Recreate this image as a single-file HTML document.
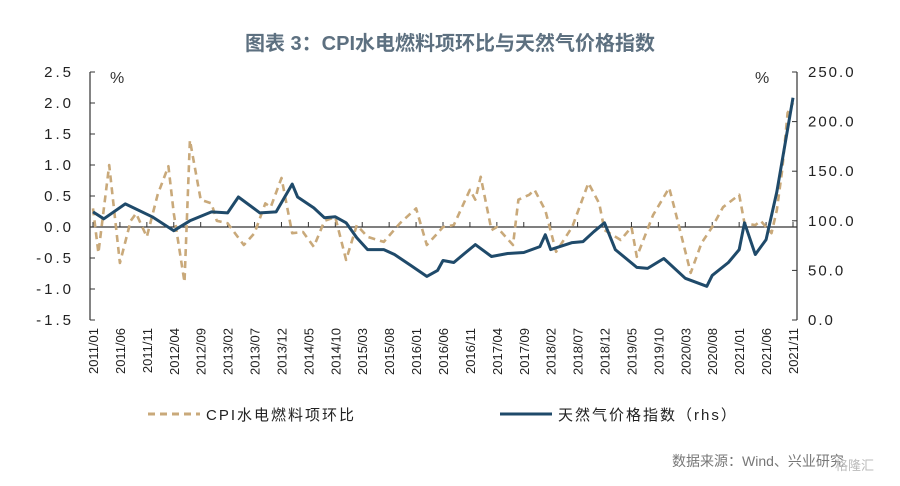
<!DOCTYPE html>
<html><head><meta charset="utf-8">
<style>
html,body{margin:0;padding:0;background:#fff;}
body{width:900px;height:481px;overflow:hidden;font-family:"Liberation Sans","Noto Sans CJK SC",sans-serif;}
</style></head>
<body>
<svg id="chart" width="900" height="481" xmlns="http://www.w3.org/2000/svg" style="font-family:'Liberation Sans','Noto Sans CJK SC',sans-serif">
<text x="450" y="50" text-anchor="middle" font-size="20" font-weight="bold" fill="#5d7080">图表 3：CPI水电燃料项环比与天然气价格指数</text>
<g id="axes"></g>
<g id="series"></g>
<text x="110" y="83" font-size="16" fill="#333">%</text>
<text x="755" y="83" font-size="16" fill="#333">%</text>
<g>
<line x1="148" y1="414" x2="200" y2="414" stroke="#c9a97a" stroke-width="3" stroke-dasharray="7,5"/>
<text x="206" y="420" font-size="15" fill="#222" letter-spacing="2">CPI水电燃料项环比</text>
<line x1="500" y1="414" x2="552" y2="414" stroke="#1f4a6a" stroke-width="3"/>
<text x="558" y="420" font-size="15" fill="#222" letter-spacing="2">天然气价格指数（rhs）</text>
</g>
<text x="672" y="466" font-size="14" fill="#777">数据来源：Wind、兴业研究</text>
<text x="835" y="470" font-size="13" fill="#bbb">格隆汇</text>
</svg>
<script>
const cpiMonths=[0,1,3,5,7,8,10,12,14,15,17,18,20,22,23,25,28,30,32,33,35,37,39,41,43,45,47,49,51,54,57,60,62,64,65,67,70,71,72,74,75,78,79,81,82,84,86,89,92,94,95,98,100,101,104,107,108,111,113,115,117,120,121,123,124,126,127,128,129,130];
const cpiValues=[0.3,-0.42,1.0,-0.58,0.1,0.22,-0.16,0.52,0.98,0.22,-0.89,1.4,0.44,0.38,0.1,0.06,-0.29,-0.1,0.38,0.32,0.79,-0.1,-0.08,-0.32,0.1,0.16,-0.53,0.03,-0.16,-0.24,0.06,0.3,-0.29,-0.1,0,0.03,0.6,0.44,0.81,-0.05,0,-0.29,0.44,0.52,0.6,0.27,-0.4,0,0.71,0.38,-0.05,-0.21,0,-0.48,0.19,0.63,0.3,-0.74,-0.26,0,0.32,0.52,0.06,0.03,0.1,-0.1,0.27,0.92,1.84,2.0];
const gasMonths=[0,2,6,11,15,18,22,25,27,31,34,37,38,41,43,45,47,49,51,54,56,59,62,64,65,67,69,71,74,77,80,83,84,85,89,91,93,95,97,101,103,106,110,114,115,118,120,121,123,125,127,130];
const gasValues=[109,102,117,104,90,100,109,108,124,108,109,137,124,113,103,104,98,83,71,71,66,55,44,50,60,58,67,76,64,67,68,74,86,71,78,79,89,98,71,53,52,62,42,34,45,58,71,98,66,81,129,224];
const leftTicks=[2.5,2.0,1.5,1.0,0.5,0.0,-0.5,-1.0,-1.5];
const rightTicks=[250,200,150,100,50,0];
const startYear=2011,startMonth=1,totalMonths=130;

const NS="http://www.w3.org/2000/svg";
const X0=93,X1=793,YT=72,YB=320;
function xS(i){return X0+(X1-X0)*i/totalMonths;}
function yL(v){return YB-(v+1.5)/4*(YB-YT);}
function yR(v){return YB-v/250*(YB-YT);}
function mk(tag,attrs,parent){const e=document.createElementNS(NS,tag);for(const k in attrs)e.setAttribute(k,attrs[k]);parent.appendChild(e);return e;}
const ax=document.getElementById('axes'),se=document.getElementById('series');
let e;
e=mk('line',{x1:90,y1:YT,x2:90,y2:YB,stroke:'#333','stroke-width':1.2},ax);


e=mk('line',{x1:797,y1:YT,x2:797,y2:YB,stroke:'#333','stroke-width':1.2},ax);


e=mk('line',{x1:90,y1:yL(0),x2:797,y2:yL(0),stroke:'#333','stroke-width':1.2},ax);


leftTicks.forEach(v=>{const y=yL(v);
 e=mk('line',{x1:90,y1:y,x2:95,y2:y,stroke:'#333'},ax);
 
 
 e=mk('text',{x:74,y:y+5,'text-anchor':'end','font-size':15,fill:'#222','letter-spacing':3},ax);
 e.textContent=v.toFixed(1);
 
 });
rightTicks.forEach(v=>{const y=yR(v);
 e=mk('line',{x1:792,y1:y,x2:797,y2:y,stroke:'#333'},ax);
 
 
 e=mk('text',{x:808,y:y+5,'font-size':15,fill:'#222','letter-spacing':2},ax);
 e.textContent=v.toFixed(1);
 
 });
for(let i=0;i<=totalMonths;i+=5){const x=xS(i);
 const m=startMonth-1+i,yr=startYear+Math.floor(m/12),mo=m%12+1;
 e=mk('line',{x1:x,y1:yL(0),x2:x,y2:yL(0)-5,stroke:'#333'},ax);
 
 
 e=mk('text',{x:0,y:0,'text-anchor':'end','font-size':13,fill:'#222',transform:`translate(${x+5},${328}) rotate(-90)`},ax);
 e.textContent=yr+'/'+String(mo).padStart(2,'0');
 
 }
let d=cpiMonths.map((m,k)=>(k?'L':'M')+xS(m).toFixed(1)+','+yL(cpiValues[k]).toFixed(1)).join('');
e=mk('path',{d:d,fill:'none',stroke:'#c9a97a','stroke-width':2.6,'stroke-dasharray':'7,5','stroke-linejoin':'round'},se);


d=gasMonths.map((m,k)=>(k?'L':'M')+xS(m).toFixed(1)+','+yR(gasValues[k]).toFixed(1)).join('');
e=mk('path',{d:d,fill:'none',stroke:'#1f4a6a','stroke-width':3,'stroke-linejoin':'round'},se);


</script>
</body></html>
